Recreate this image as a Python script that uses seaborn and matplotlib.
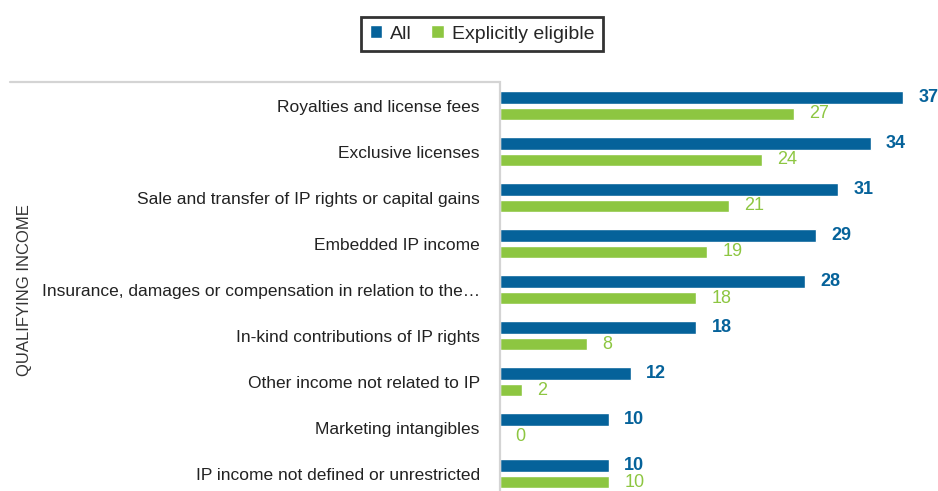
import matplotlib
matplotlib.use("Agg")
import matplotlib.pyplot as plt
from matplotlib.lines import Line2D
from matplotlib.patches import Patch
import pandas as pd
import seaborn as sns

# ─── Data ─────────────────────────────────────────────────────────────
CATEGORIES = [
    "Royalties and license fees",
    "Exclusive licenses",
    "Sale and transfer of IP rights or capital gains",
    "Embedded IP income",
    "Insurance, damages or compensation in relation to the\u2026",
    "In-kind contributions of IP rights",
    "Other income not related to IP",
    "Marketing intangibles",
    "IP income not defined or unrestricted",
]
ALL = [37, 34, 31, 29, 28, 18, 12, 10, 10]
EXPLICIT = [27, 24, 21, 19, 18, 8, 2, 0, 10]
SERIES = ["All", "Explicitly eligible"]

BLUE = "#05629a"
GREEN = "#8dc641"
GRID_GREY = "#d4d4d4"

df = pd.DataFrame({
    "category": CATEGORIES * 2,
    "value": ALL + EXPLICIT,
    "series": [SERIES[0]] * len(ALL) + [SERIES[1]] * len(EXPLICIT),
})

sns.set_style("white")
plt.rcParams["font.family"] = ["Liberation Sans", "DejaVu Sans"]

fig = plt.figure(figsize=(9.38, 4.91), dpi=100)
ax = fig.add_axes([500 / 938, 0, 436 / 938, (491 - 82) / 491])

sns.barplot(
    data=df, x="value", y="category", hue="series", orient="h",
    palette=[BLUE, GREEN], width=0.7, gap=0.2, ax=ax, legend=False,
    saturation=1,
)

ax.set_xlim(0, 40)
ax.set_ylim(8.37, -0.52)
ax.set_xlabel("")
ax.set_ylabel("")
ax.set_xticks([])
ax.tick_params(axis="y", length=0, pad=14.5, labelsize=12.5, labelcolor="#222222")

for side in ["top", "right", "bottom"]:
    ax.spines[side].set_visible(False)
ax.spines["left"].set_color(GRID_GREY)
ax.spines["left"].set_linewidth(1.6)

# Value labels
ax.bar_label(ax.containers[0], padding=11, fontsize=13, fontweight="bold",
             color=BLUE)
ax.bar_label(ax.containers[1], padding=11, fontsize=13, color=GREEN)

# Bracket line over the category labels
fig.add_artist(Line2D([10 / 938, 499 / 938], [1 - 82 / 491, 1 - 82 / 491],
                      color=GRID_GREY, linewidth=1.6))

fig.text(25 / 938, 1 - 290 / 491, "QUALIFYING INCOME", rotation=90,
         ha="center", va="center", fontsize=12, color="#333333")

handles = [Patch(facecolor=BLUE, label=SERIES[0]),
           Patch(facecolor=GREEN, label=SERIES[1])]
leg = fig.legend(handles=handles, loc="center", ncol=2,
                 bbox_to_anchor=(482 / 938, 1 - 34 / 491), frameon=True,
                 fontsize=14, handlelength=0.65, handleheight=0.65,
                 handletextpad=0.4, columnspacing=1.0, fancybox=False,
                 borderpad=0.45)
leg.get_frame().set_edgecolor("black")
leg.get_frame().set_linewidth(2)

fig.savefig("out.png", dpi=100)
